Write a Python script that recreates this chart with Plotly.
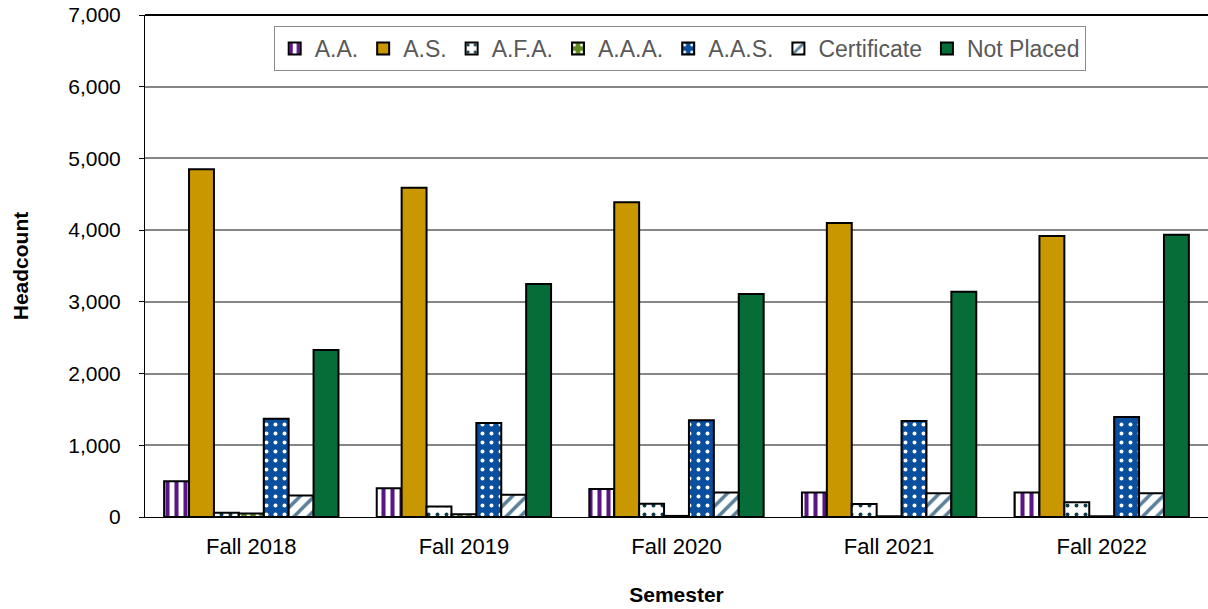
import plotly.graph_objects as go

semesters = ["Fall 2018", "Fall 2019", "Fall 2020", "Fall 2021", "Fall 2022"]
aa = [500, 400, 390, 340, 340]
as_ = [4850, 4590, 4390, 4100, 3920]
afa = [60, 145, 185, 180, 205]
aaa = [50, 40, 15, 10, 10]
aas = [1370, 1310, 1350, 1340, 1395]
cert = [300, 310, 340, 330, 330]
not_placed = [2330, 3250, 3110, 3140, 3935]

series = [
    ("A.A.", aa, dict(shape="|", fgcolor="#5A1486", bgcolor="white", size=9, solidity=0.45)),
    ("A.S.", as_, dict(shape="", bgcolor="#C99700", fgcolor="#C99700")),
    ("A.F.A.", afa, dict(shape=".", fgcolor="#0E3B48", bgcolor="white", size=9, solidity=0.15)),
    ("A.A.A.", aaa, dict(shape=".", fgcolor="white", bgcolor="#5E8A1E", size=9, solidity=0.15)),
    ("A.A.S.", aas, dict(shape=".", fgcolor="white", bgcolor="#0A4E9E", size=9, solidity=0.15)),
    ("Certificate", cert, dict(shape="/", fgcolor="#5B7F99", bgcolor="white", size=10, solidity=0.35)),
    ("Not Placed", not_placed, dict(shape="", bgcolor="#066D39", fgcolor="#066D39")),
]

fig = go.Figure()
for name, vals, pat in series:
    color = pat["bgcolor"]
    fig.add_trace(go.Bar(
        x=semesters, y=vals, name=name,
        marker=dict(color=color, line=dict(color="black", width=2),
                    pattern=dict(fillmode="replace", **pat)),
    ))

font = "Arial, Liberation Sans, sans-serif"
fig.update_layout(
    width=1208, height=609,
    margin=dict(l=145, r=0, t=15, b=92),
    paper_bgcolor="white", plot_bgcolor="white",
    barmode="group", bargap=0.18, bargroupgap=0,
    font=dict(family=font, size=21, color="black"),
    legend=dict(orientation="h", x=0.503, xanchor="center", y=0.978, yanchor="top",
                bordercolor="#8C8C8C", borderwidth=1, bgcolor="white",
                font=dict(size=23, color="#595959"), itemwidth=30,
                tracegroupgap=0),
    xaxis=dict(title=dict(text="<b>Semester</b>", font=dict(size=21), standoff=28),
               showline=True, linecolor="black", linewidth=1, ticks="", tickfont=dict(size=22),
               automargin=False, ticklabelstandoff=10),
    yaxis=dict(title=dict(text="<b>Headcount</b>", font=dict(size=21), standoff=33),
               range=[0, 7000], dtick=1000, tickformat=",", showline=True, linecolor="black",
               linewidth=1, ticks="outside", ticklen=5, tickcolor="black",
               gridcolor="#868686", gridwidth=1.5, tickfont=dict(size=21), zeroline=False,
               automargin=False, ticklabelstandoff=14, ticklabeloverflow="allow"),
)
fig.add_shape(type="line", xref="paper", yref="paper", x0=0, x1=1, y0=1, y1=1,
              line=dict(color="black", width=2))
fig.write_html("out.html", config={"displayModeBar": False},
               post_script="document.body.style.margin='0';document.body.style.overflow='hidden';")
